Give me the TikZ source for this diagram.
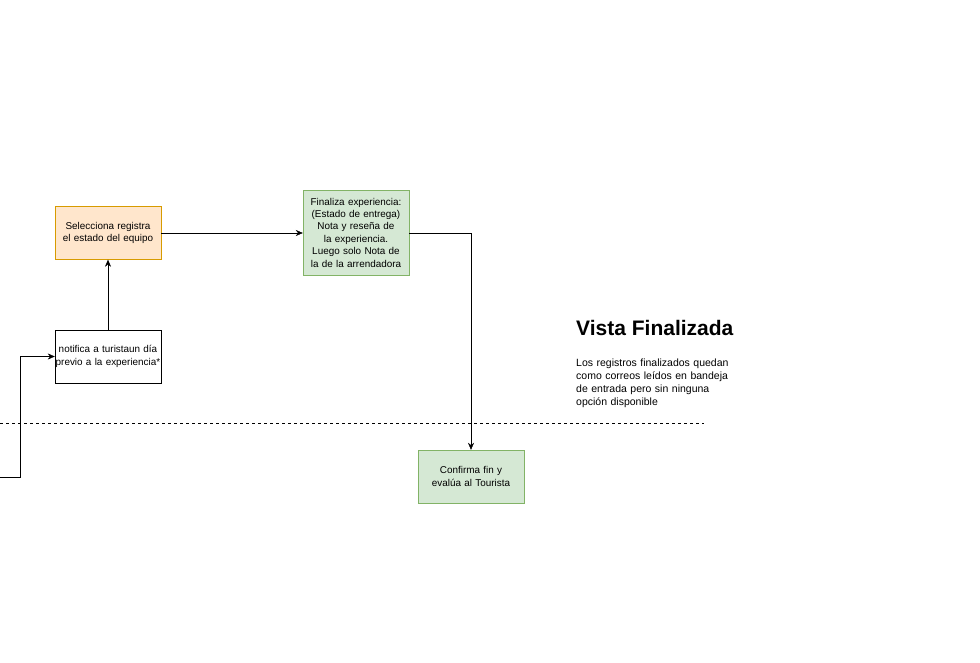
\documentclass[tikz,border=0pt]{standalone}
\usepackage{fontspec}
\setmainfont{Liberation Sans}
\usetikzlibrary{positioning,arrows.meta}
\definecolor{orangefill}{HTML}{FFE6CC}
\definecolor{orangedraw}{HTML}{D79B00}
\definecolor{greenfill}{HTML}{D5E8D4}
\definecolor{greendraw}{HTML}{82B366}
\begin{document}
\begin{tikzpicture}[
    x=1pt, y=-1pt,
    box/.style={
        rectangle,
        draw=black,
        minimum width=106pt,
        minimum height=53pt,
        text width=105pt,
        align=center,
        inner sep=0.5pt,
        font=\fontsize{9.9}{12.4}\selectfont
    },
    orangebox/.style={box, fill=orangefill, draw=orangedraw},
    greenbox/.style={box, fill=greenfill, draw=greendraw},
    arrow/.style={-{Stealth[length=7pt,width=6pt]}}
]
\useasboundingbox (0,0) rectangle (980,662);

% Nodes
\node[orangebox] (sel)  at (108,233) {Selecciona registra el estado del equipo};
\node[greenbox, minimum height=85pt] (fin) at (356,232.5) {Finaliza experiencia:\\(Estado de entrega)\\Nota y reseña de la experiencia.\\ Luego solo Nota de la de la arrendadora};
\node[box] (noti) at (108,356.5) {notifica a turistaun día previo a la experiencia*};
\node[greenbox] (conf) at (471,476.5) {Confirma fin y evalúa al Tourista};
\coordinate (start) at (0,477);

\node[anchor=north west, inner sep=0pt, font=\bfseries\fontsize{21}{24}\selectfont] (title) at (576,320) {Vista Finalizada};
\node[anchor=north west, inner sep=0pt, text width=200pt, align=left,
      font=\fontsize{10.5}{13}\selectfont] (desc) at (576,359)
      {Los registros finalizados quedan\\como correos leídos en bandeja\\de entrada pero sin ninguna\\opción disponible};

% Divider
\draw[dashed] (0,423) -- (704,423);

% Arrows
\draw[arrow] (start) -- (20,477) |- (noti.west);
\draw[arrow] (noti) -- (sel);
\draw[arrow] (sel) -- (sel.east -| fin.west);
\draw[arrow] (sel.east -| fin.east) -| (conf.north);

\end{tikzpicture}
\end{document}
